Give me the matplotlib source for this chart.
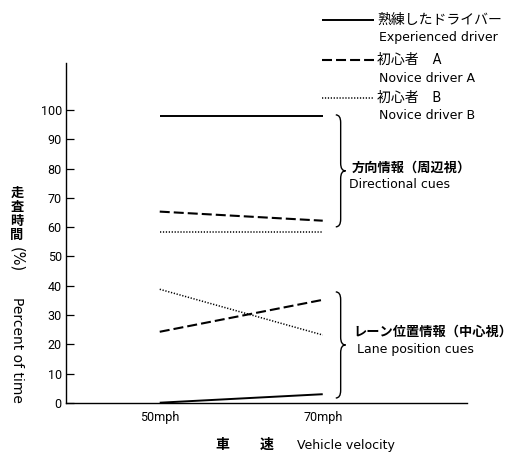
import matplotlib
matplotlib.use("Agg")
import matplotlib.pyplot as plt
from matplotlib.path import Path
from matplotlib.patches import PathPatch
from matplotlib.lines import Line2D

plt.rcParams['font.family'] = ['Roboto', 'Noto Sans CJK JP', 'DejaVu Sans']
plt.rcParams['lines.scale_dashes'] = False
EN = ['DejaVu Sans']

# data
speeds = [50, 70]
speed_labels = ["50mph", "70mph"]
# directional cues (peripheral vision)
exp_dir = [98.0, 98.0]
novA_dir = [65.3, 62.2]
novB_dir = [58.3, 58.3]
# lane position cues (central vision)
exp_lane = [0.1, 3.0]
novA_lane = [24.3, 35.2]
novB_lane = [38.8, 23.2]

W, H = 515, 454
fig = plt.figure(figsize=(W / 100, H / 100), dpi=100)


def px(x, y):
    return x / W, 1 - y / H


ax = fig.add_axes([66 / W, 51 / H, 401 / W, 340 / H])
ax.set_xlim(38.5, 87.7)
ax.set_ylim(0, 116)

solid = dict(color="black", lw=1.4, solid_capstyle="butt")
dashed = dict(color="black", lw=1.5, dashes=(7.2, 2.9))
dotted = dict(color="black", lw=1.1, dashes=(0.9, 1.2))

ax.plot(speeds, exp_dir, **solid)
ax.plot(speeds, novA_dir, **dashed)
ax.plot(speeds, novB_dir, **dotted)
ax.plot(speeds, exp_lane, **solid)
ax.plot(speeds, novA_lane, **dashed)
ax.plot(speeds, novB_lane, **dotted)

for s in ["top", "right"]:
    ax.spines[s].set_visible(False)
for s in ["left", "bottom"]:
    ax.spines[s].set_linewidth(1.0)

ax.set_yticks(range(0, 101, 10))
ax.tick_params(axis="y", direction="in", length=6, width=0.9, labelsize=9, pad=3)
ax.set_xticks(speeds)
ax.set_xticklabels(speed_labels)
ax.tick_params(axis="x", length=0, labelsize=9, pad=6)


def brace(x, y0, y1, w=0.6, d=2.6):
    ym = (y0 + y1) / 2
    verts = [(x - w, y1), (x, y1), (x, y1 - d), (x, ym + d),
             (x, ym), (x + w, ym), (x, ym), (x, ym - d),
             (x, y0 + d), (x, y0), (x - w, y0)]
    codes = [Path.MOVETO, Path.CURVE3, Path.CURVE3, Path.LINETO,
             Path.CURVE3, Path.CURVE3, Path.CURVE3, Path.CURVE3,
             Path.LINETO, Path.CURVE3, Path.CURVE3]
    ax.add_patch(PathPatch(Path(verts, codes), fill=False, lw=1.0,
                           edgecolor="black", clip_on=False))


brace(72.2, 60.1, 98.3)
brace(72.2, 1.7, 37.9)

# bracket labels
fig.text(*px(352, 168), "方向情報（周辺視）", fontsize=9.5, fontweight="bold",
         va="center", ha="left")
fig.text(*px(349, 185), "Directional cues", fontsize=9, family=EN,
         va="center", ha="left")
fig.text(*px(353, 332), "レーン位置情報（中心視）", fontsize=9.5, fontweight="bold",
         va="center", ha="left")
fig.text(*px(357, 350), "Lane position cues", fontsize=9, family=EN,
         va="center", ha="left")

# legend
legend_items = [
    (20, 37, solid, "熟練したドライバー", "Experienced driver"),
    (60, 78, dashed, "初心者　A", "Novice driver A"),
    (98, 115, dotted, "初心者　B", "Novice driver B"),
]
for ly, ty, style, jp, en in legend_items:
    x0, y0 = px(322, ly)
    x1, _ = px(374, ly)
    fig.add_artist(Line2D([x0, x1], [y0, y0], **style))
    fig.text(*px(377, ly), jp, fontsize=10, va="center", ha="left")
    fig.text(*px(379, ty), en, fontsize=9, family=EN, va="center", ha="left")

# y axis label (vertical)
for ch, cy in zip("走査時間", [193, 207, 221, 235]):
    fig.text(*px(17, cy), ch, fontsize=9.5, fontweight="bold",
             ha="center", va="center")
fig.text(*px(17, 260), "(%)", fontsize=10.5, family=EN, rotation=-90,
         ha="center", va="center")
fig.text(*px(17, 350), "Percent of time", fontsize=10, family=EN, rotation=-90,
         ha="center", va="center")

# x axis label
fig.text(*px(222, 445), "車", fontsize=10, fontweight="bold", ha="center", va="center")
fig.text(*px(267, 445), "速", fontsize=10, fontweight="bold", ha="center", va="center")
fig.text(*px(297, 445), "Vehicle velocity", fontsize=9, family=EN,
         ha="left", va="center")

fig.savefig("out.png", dpi=100)
